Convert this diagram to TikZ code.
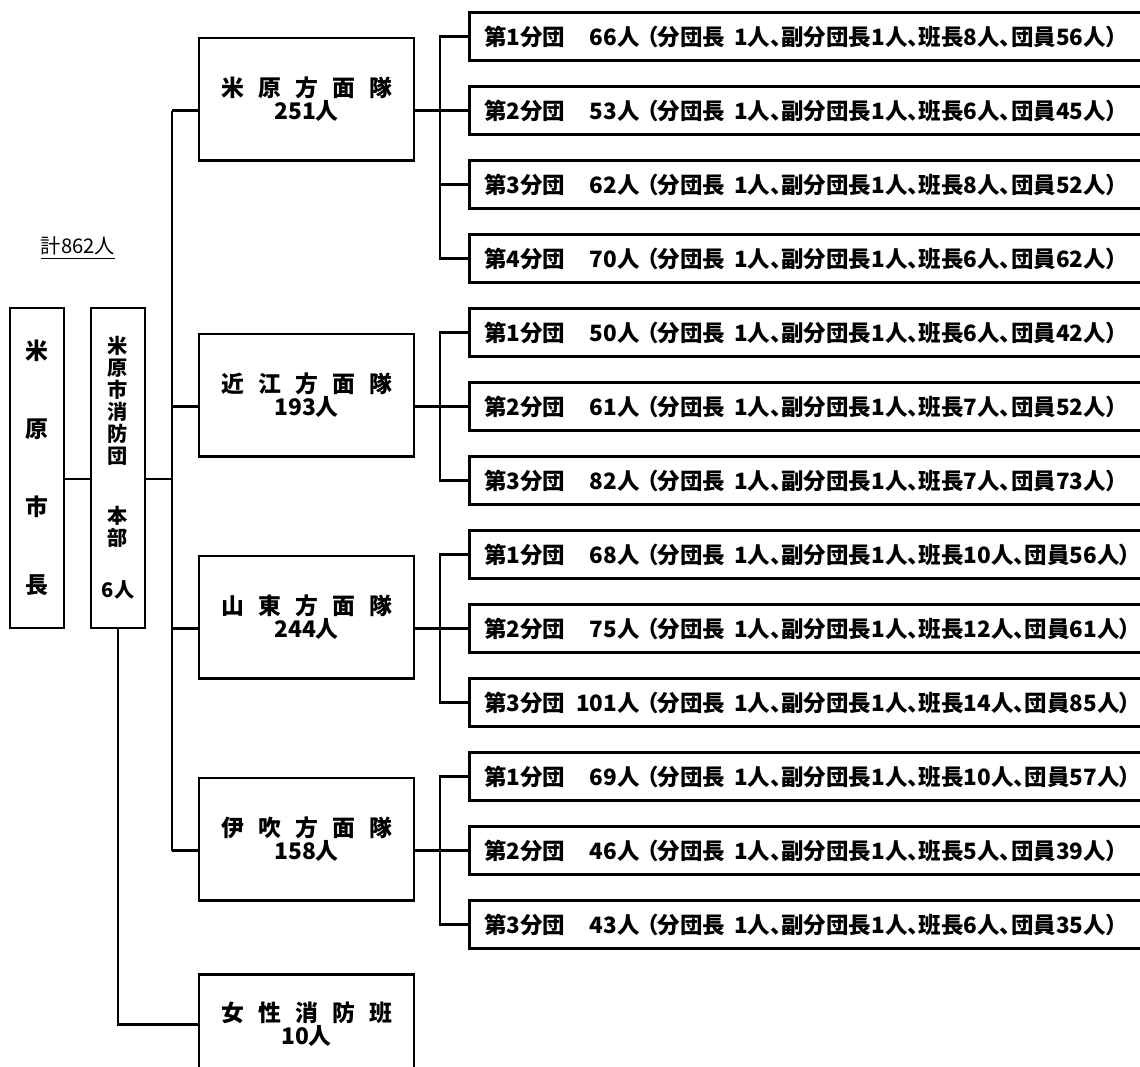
\documentclass[tikz,border=0pt]{standalone}
\usepackage{fontspec}
\setmainfont{Noto Sans CJK JP}[RawFeature=+palt]
\usetikzlibrary{positioning}
\newcommand{\jgap}{\hspace{0.62em}}
\newcommand{\bundan}[3]{第#1分団\makebox[3.3em][r]{#2人}\hspace{0.3em}（分団長\hspace{0.4em}1人、副分団長1人、#3）}

\begin{document}
\begin{tikzpicture}[x=0.02cm,y=-0.02cm,line width=0.05cm,every node/.style={inner sep=0pt},
  mainbox/.style={draw,anchor=north,minimum width=4.3cm,minimum height=2.46cm,align=center,font=\bfseries\fontsize{13}{13.5}\selectfont},
  subbox/.style={draw,anchor=west,minimum height=0.96cm,text width=13.04cm,inner xsep=0.3cm,align=left,font=\bfseries\fontsize{12.8}{14}\selectfont},
  tallbox/.style={draw,minimum width=1.08cm,minimum height=6.4cm,align=center}]

  \useasboundingbox (0,0) rectangle (1140,1066);
  \clip (0,0) rectangle (1140,1066);

  \node[font=\fontsize{11.5}{13}\selectfont] (total) at (78,248) {\underline{計862人}};

  \node[tallbox,font=\bfseries\fontsize{13}{44.4}\selectfont] (mayor) at (37,468) {米\\原\\市\\長};
  \node[tallbox,font=\bfseries\fontsize{11.5}{12.5}\selectfont] (honbu) at (118,468) {米\\原\\市\\消\\防\\団\\[0.76cm]本\\部\\[0.6cm]6人};

  \node[mainbox] (maibara) at (306.5,36.5) {米\jgap 原\jgap 方\jgap 面\jgap 隊\\251人};
  \node[mainbox] (oumi) at (306.5,332.5) {近\jgap 江\jgap 方\jgap 面\jgap 隊\\193人};
  \node[mainbox] (santou) at (306.5,554.5) {山\jgap 東\jgap 方\jgap 面\jgap 隊\\244人};
  \node[mainbox] (ibuki) at (306.5,776.5) {伊\jgap 吹\jgap 方\jgap 面\jgap 隊\\158人};
  \node[mainbox,minimum height=2cm] (josei) at (306.5,973) {女\jgap 性\jgap 消\jgap 防\jgap 班\\10人};

  % sub units
  \node[subbox] (maibara1) at (468,36.5) {\bundan{1}{66}{班長8人、団員56人}};
  \node[subbox] (maibara2) at (468,110.5) {\bundan{2}{53}{班長6人、団員45人}};
  \node[subbox] (maibara3) at (468,184.5) {\bundan{3}{62}{班長8人、団員52人}};
  \node[subbox] (maibara4) at (468,258.5) {\bundan{4}{70}{班長6人、団員62人}};
  \node[subbox] (oumi1) at (468,332.5) {\bundan{1}{50}{班長6人、団員42人}};
  \node[subbox] (oumi2) at (468,406.5) {\bundan{2}{61}{班長7人、団員52人}};
  \node[subbox] (oumi3) at (468,480.5) {\bundan{3}{82}{班長7人、団員73人}};
  \node[subbox] (santou1) at (468,554.5) {\bundan{1}{68}{班長10人、団員56人}};
  \node[subbox] (santou2) at (468,628.5) {\bundan{2}{75}{班長12人、団員61人}};
  \node[subbox] (santou3) at (468,702.5) {\bundan{3}{101}{班長14人、団員85人}};
  \node[subbox] (ibuki1) at (468,776.5) {\bundan{1}{69}{班長10人、団員57人}};
  \node[subbox] (ibuki2) at (468,850.5) {\bundan{2}{46}{班長5人、団員39人}};
  \node[subbox] (ibuki3) at (468,924.5) {\bundan{3}{43}{班長6人、団員35人}};

  % connectors
  \coordinate (hj) at (172,479);
  \coordinate (br) at (440,0);
  \draw (mayor.east |- hj) -- (honbu.west |- hj);
  \draw (honbu.east |- hj) -- (hj);
  \draw (hj |- maibara2) -- (hj |- ibuki2);
  \draw (hj |- maibara2) -- (maibara.west |- maibara2);
  \draw (hj |- oumi2) -- (oumi.west |- oumi2);
  \draw (hj |- santou2) -- (santou.west |- santou2);
  \draw (hj |- ibuki2) -- (ibuki.west |- ibuki2);
  \draw (honbu.south) |- (josei.west);

  \draw (maibara.east |- maibara2) -- (maibara2.west);
  \draw (maibara1.west) -- (br |- maibara1) -- (br |- maibara4) -- (maibara4.west);
  \draw (br |- maibara3) -- (maibara3.west);
  \draw (oumi.east |- oumi2) -- (oumi2.west);
  \draw (oumi1.west) -- (br |- oumi1) -- (br |- oumi3) -- (oumi3.west);
  \draw (santou.east |- santou2) -- (santou2.west);
  \draw (santou1.west) -- (br |- santou1) -- (br |- santou3) -- (santou3.west);
  \draw (ibuki.east |- ibuki2) -- (ibuki2.west);
  \draw (ibuki1.west) -- (br |- ibuki1) -- (br |- ibuki3) -- (ibuki3.west);
\end{tikzpicture}
\end{document}
